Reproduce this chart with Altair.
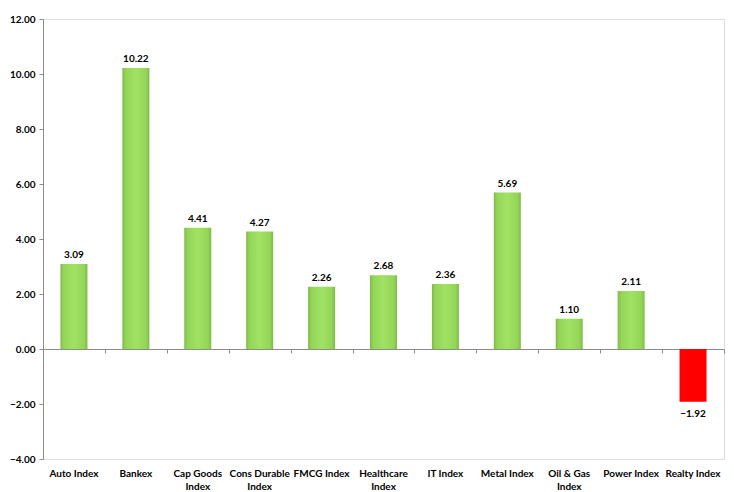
import altair as alt
import pandas as pd

# Weekly sector index returns (%)
categories = [
    "Auto Index", "Bankex", "Cap Goods\nIndex", "Cons Durable\nIndex",
    "FMCG Index", "Healthcare\nIndex", "IT Index", "Metal Index",
    "Oil & Gas\nIndex", "Power Index", "Realty Index",
]
values = [3.09, 10.22, 4.41, 4.27, 2.26, 2.68, 2.36, 5.69, 1.10, 2.11, -1.92]

df = pd.DataFrame({"category": categories, "value": values})

FONT = "Lato"
AXIS_GRAY = "#8c8c8c"

x_scale = alt.Scale(domain=categories, paddingInner=0, paddingOuter=0)
y_enc = alt.Y(
    "value:Q",
    scale=alt.Scale(domain=[-4, 12], nice=False, zero=False),
    axis=alt.Axis(
        values=list(range(-4, 13, 2)), format=".2f", grid=False, title=None,
        domainColor=AXIS_GRAY, tickColor=AXIS_GRAY, tickSize=4, labelPadding=4,
        labelFont=FONT, labelFontWeight="bold", labelFontSize=10, labelColor="#000",
    ),
)

green_fill = alt.Gradient(
    gradient="linear", x1=0, x2=1, y1=0, y2=0,
    stops=[
        alt.GradientStop(color="#80b948", offset=0),
        alt.GradientStop(color="#93d557", offset=0.12),
        alt.GradientStop(color="#a0e264", offset=0.5),
        alt.GradientStop(color="#93d557", offset=0.88),
        alt.GradientStop(color="#80b948", offset=1),
    ],
)
glow_fill = alt.Gradient(
    gradient="linear", x1=0, x2=1, y1=0, y2=0,
    stops=[
        alt.GradientStop(color="rgba(255,255,255,0)", offset=0),
        alt.GradientStop(color="rgba(236,246,222,0.7)", offset=0.5),
        alt.GradientStop(color="rgba(255,255,255,0)", offset=1),
    ],
)

base = alt.Chart(df)
pos = base.transform_filter("datum.value >= 0")
neg = base.transform_filter("datum.value < 0")

x_labels = alt.X(
    "category:N", sort=categories, scale=x_scale, title=None,
    axis=alt.Axis(
        orient="bottom", domain=False, ticks=False, labelAngle=0,
        labelPadding=9, labelFont=FONT, labelFontWeight="bold",
        labelFontSize=10, labelColor="#000", labelLineHeight=13,
        labelExpr="split(datum.label, '\\n')",
    ),
)
x_zero = alt.X(
    "category:N", sort=categories, scale=x_scale, title=None,
    axis=alt.Axis(
        orient="bottom", offset=-110, labels=False, tickBand="extent",
        domainColor=AXIS_GRAY, tickColor=AXIS_GRAY, tickSize=4,
    ),
)
x_plain = alt.X("category:N", sort=categories, scale=x_scale, axis=None)

glow = pos.mark_bar(size=48, color=glow_fill).encode(x=x_labels, y=y_enc, y2=alt.datum(0))
green = pos.mark_bar(size=27, color=green_fill).encode(x=x_plain, y=y_enc, y2=alt.datum(0))
red = neg.mark_bar(size=27, color="#ff0000").encode(x=x_plain, y=y_enc, y2=alt.datum(0))
zero_axis = base.mark_bar(opacity=0).encode(x=x_zero, y=y_enc, y2=alt.datum(0))

txt_style = dict(font=FONT, fontWeight="bold", fontSize=10, color="#000")
pos_txt = pos.mark_text(baseline="bottom", dy=-4, **txt_style).encode(
    x=x_plain, y=y_enc, text=alt.Text("value:Q", format=".2f"))
neg_txt = neg.mark_text(baseline="top", dy=7, **txt_style).encode(
    x=x_plain, y=y_enc, text=alt.Text("value:Q", format=".2f"))

chart = (
    alt.layer(glow, green, red, zero_axis, pos_txt, neg_txt)
    .resolve_axis(x="independent")
    .properties(
        width=681, height=440,
        padding={"left": 43, "top": 19, "right": 10, "bottom": 33},
        autosize=alt.AutoSizeParams(type="none"),
    )
    .configure_view(stroke=None)
    .configure(background="white")
)

chart.save("out.html", embed_options={"renderer": "svg", "actions": False})
